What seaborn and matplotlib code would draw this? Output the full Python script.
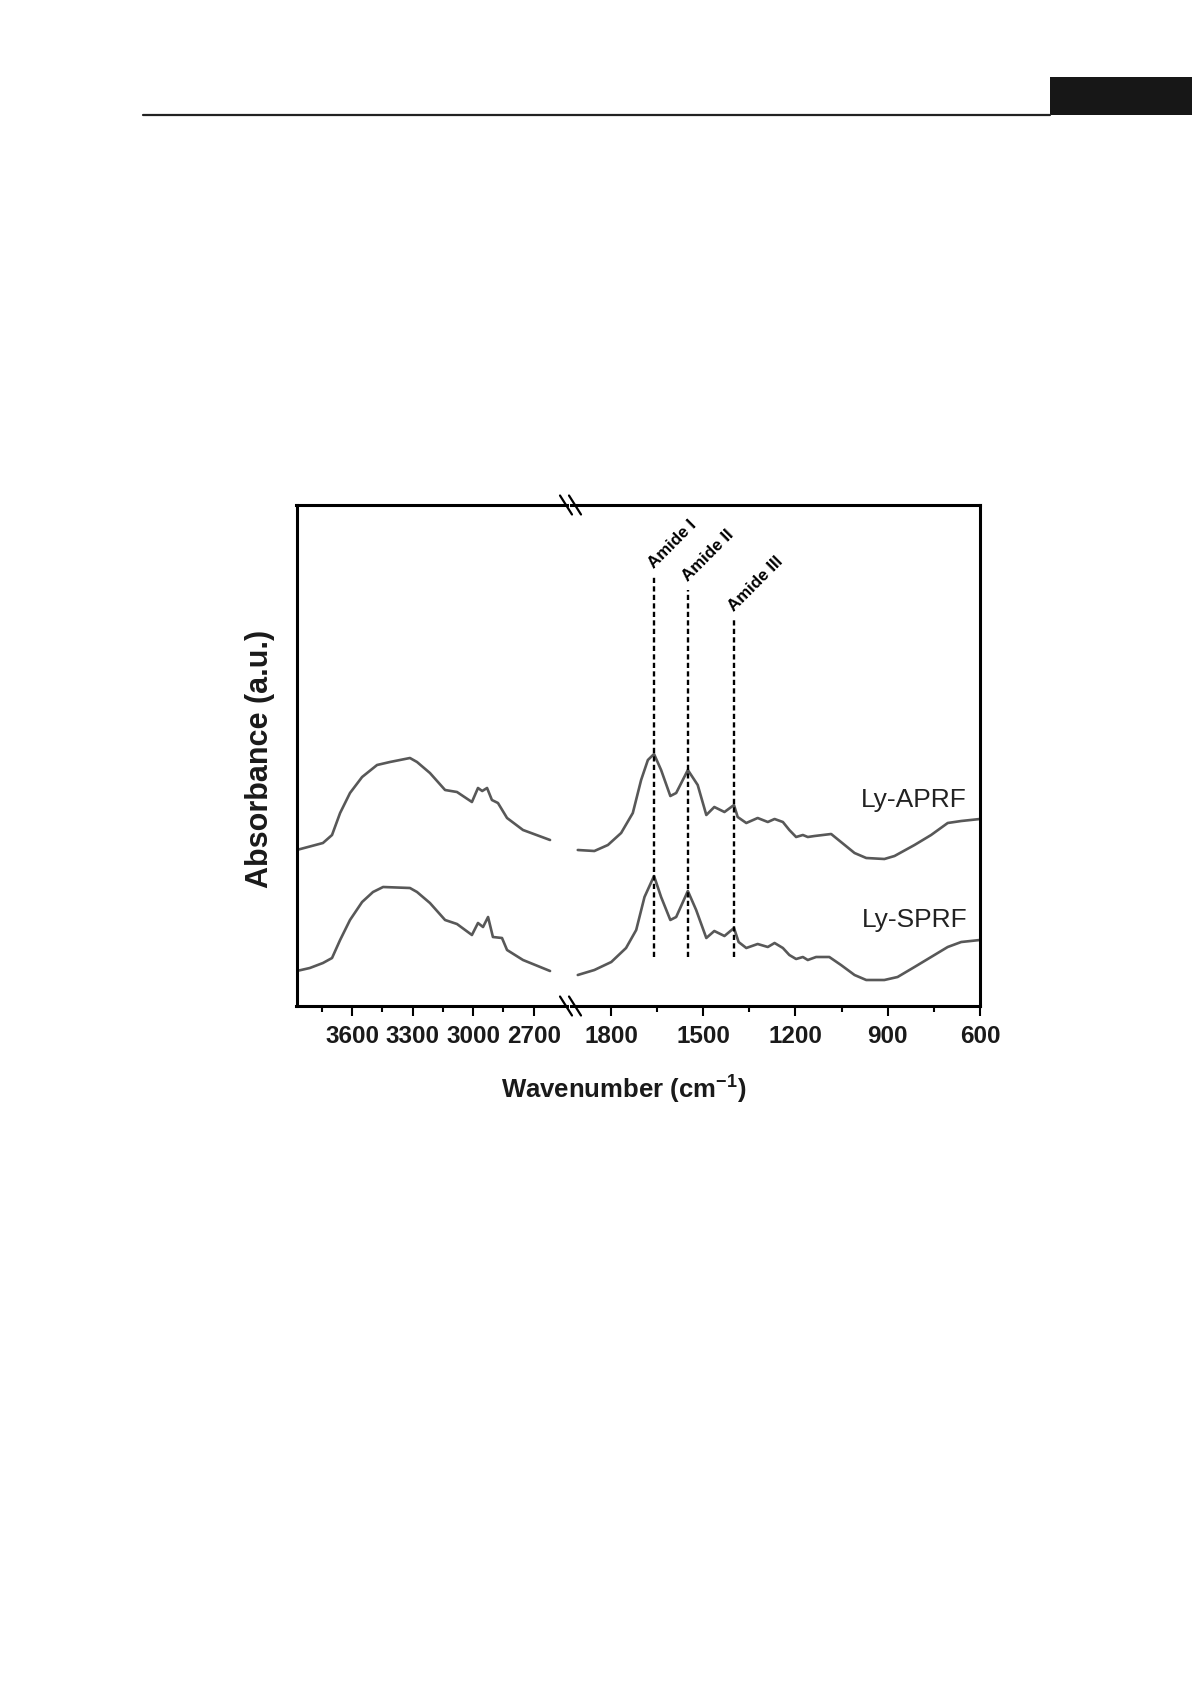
import matplotlib
matplotlib.use("Agg")
import matplotlib.pyplot as plt
import seaborn as sns
import pandas as pd
from matplotlib.lines import Line2D
from matplotlib.patches import Rectangle

# ---------------- data ----------------
samples = ["Ly-APRF", "Ly-SPRF"]

wn_hi_aprf = [3874, 3744, 3699, 3659, 3610, 3550, 3476, 3412, 3313, 3278, 3214, 3139, 3080,
              3006, 2976, 2955, 2931, 2907, 2877, 2832, 2753, 2619]
ab_hi_aprf = [15.6, 16.3, 17.1, 19.3, 21.3, 22.9, 24.1, 24.4, 24.8, 24.4, 23.3, 21.6, 21.4,
              20.4, 21.8, 21.5, 21.8, 20.6, 20.3, 18.8, 17.6, 16.6]

wn_hi_sprf = [3874, 3809, 3744, 3699, 3659, 3610, 3550, 3496, 3446, 3313, 3278, 3214, 3139,
              3080, 3006, 2976, 2951, 2926, 2902, 2857, 2832, 2753, 2619]
ab_hi_sprf = [3.5, 3.8, 4.3, 4.8, 6.6, 8.6, 10.4, 11.4, 11.9, 11.8, 11.4, 10.3, 8.6,
              8.2, 7.1, 8.3, 7.9, 8.9, 6.9, 6.8, 5.6, 4.6, 3.5]

wn_lo_aprf = [1908, 1854, 1810, 1767, 1729, 1702, 1680, 1660, 1637, 1607, 1588, 1550, 1518,
              1490, 1464, 1431, 1400, 1388, 1360, 1323, 1290, 1268, 1241, 1220, 1198, 1176,
              1160, 1138, 1084, 1052, 1008, 970, 911, 878, 813, 759, 705, 661, 600]
ab_lo_aprf = [15.6, 15.5, 16.1, 17.3, 19.3, 22.6, 24.6, 25.2, 23.6, 21.0, 21.3, 23.6, 22.1,
              19.1, 19.9, 19.4, 20.1, 18.9, 18.3, 18.8, 18.4, 18.7, 18.4, 17.6, 16.9, 17.1,
              16.9, 17.0, 17.2, 16.4, 15.3, 14.8, 14.7, 15.0, 16.1, 17.1, 18.3, 18.5, 18.7]

wn_lo_sprf = [1908, 1854, 1799, 1751, 1718, 1691, 1660, 1637, 1607, 1588, 1550, 1523, 1490,
              1464, 1431, 1400, 1385, 1360, 1323, 1290, 1268, 1241, 1220, 1198, 1176, 1160,
              1133, 1090, 1052, 1008, 970, 911, 868, 813, 759, 705, 661, 600]
ab_lo_sprf = [3.1, 3.6, 4.4, 5.8, 7.6, 10.9, 13.0, 10.9, 8.6, 8.9, 11.5, 9.6, 6.8,
              7.5, 7.0, 7.8, 6.4, 5.8, 6.2, 5.9, 6.3, 5.8, 5.1, 4.7, 4.9, 4.6,
              4.9, 4.9, 4.1, 3.1, 2.6, 2.6, 2.9, 3.9, 4.9, 5.9, 6.4, 6.6]

amide_names = ["Amide I", "Amide II", "Amide III"]
amide_wn = [1660, 1550, 1400]
amide_top = [42.9, 41.6, 38.6]
amide_bottom = 4.9

label_wn = 642
label_ab = [19.9, 7.9]

ticks_hi = [3600, 3300, 3000, 2700]
minor_hi = [3750, 3450, 3150, 2850]
ticks_lo = [1800, 1500, 1200, 900, 600]
minor_lo = [1650, 1350, 1050, 750]
xlim_hi = (3875, 2535)
xlim_lo = (1930, 600)
ylim = (0, 50.1)

# ---------------- style ----------------
sns.set_theme(style="white")
plt.rcParams["font.family"] = ["Liberation Sans", "DejaVu Sans"]
plt.rcParams["mathtext.fontset"] = "custom"
plt.rcParams["mathtext.rm"] = "Liberation Sans:bold"
plt.rcParams["mathtext.default"] = "regular"

W, H = 1192, 1685
def fx(px):
    return px / W
def fy(py):
    return 1 - py / H

fig = plt.figure(figsize=(W / 100, H / 100), dpi=100)
fig.patch.set_facecolor("white")

# page header decoration
fig.add_artist(Line2D([fx(143), fx(1050)], [fy(115), fy(115)], color="#222222", lw=1.6))
fig.add_artist(Rectangle((fx(1050), fy(115)), fx(1192) - fx(1050), (115 - 77) / H,
                         transform=fig.transFigure, facecolor="#171717", edgecolor="none"))

top, bot = 505, 1006
axL = fig.add_axes([fx(296.5), fy(bot), (567 - 296.5) / W, (bot - top) / H])
axR = fig.add_axes([fx(571), fy(bot), (980 - 571) / W, (bot - top) / H])

line_color = "#585858"
df_hi = pd.concat([
    pd.DataFrame({"wn": wn_hi_aprf, "ab": ab_hi_aprf, "sample": samples[0]}),
    pd.DataFrame({"wn": wn_hi_sprf, "ab": ab_hi_sprf, "sample": samples[1]}),
])
df_lo = pd.concat([
    pd.DataFrame({"wn": wn_lo_aprf, "ab": ab_lo_aprf, "sample": samples[0]}),
    pd.DataFrame({"wn": wn_lo_sprf, "ab": ab_lo_sprf, "sample": samples[1]}),
])
pal = {samples[0]: line_color, samples[1]: line_color}
sns.lineplot(data=df_hi, x="wn", y="ab", hue="sample", palette=pal, estimator=None,
             sort=False, lw=1.9, ax=axL, legend=False)
sns.lineplot(data=df_lo, x="wn", y="ab", hue="sample", palette=pal, estimator=None,
             sort=False, lw=1.9, ax=axR, legend=False)

axL.set_xlim(*xlim_hi)
axR.set_xlim(*xlim_lo)
for ax in (axL, axR):
    ax.set_ylim(*ylim)
    ax.set_yticks([])
    ax.set_xlabel("")
    ax.set_ylabel("")
    ax.set_facecolor("white")
    for s in ax.spines.values():
        s.set_linewidth(2.2)
        s.set_color("black")
    ax.tick_params(axis="x", which="major", direction="out", length=7.5, width=1.5,
                   labelsize=17.5, pad=6.5, color="black", bottom=True)
    ax.tick_params(axis="x", which="minor", direction="out", length=4.3, width=1.5,
                   color="black", bottom=True)
axL.spines["right"].set_visible(False)
axR.spines["left"].set_visible(False)

axL.set_xticks(ticks_hi)
axL.set_xticks(minor_hi, minor=True)
axR.set_xticks(ticks_lo)
axR.set_xticks(minor_lo, minor=True)
for ax in (axL, axR):
    ax.set_xticklabels([str(t) for t in ax.get_xticks()], fontweight="bold",
                       fontsize=17.5, color="#1a1a1a")

# break marks
for cx in (566, 575):
    for cy in (top, bot):
        fig.add_artist(Line2D([fx(cx - 6), fx(cx + 6)], [fy(cy - 9.5), fy(cy + 9.5)],
                              color="black", lw=1.6))

# amide reference lines
axR.vlines(amide_wn, amide_bottom, amide_top, colors="black",
           linestyles=(0, (2.2, 1.4)), lw=1.7)
for name, w, t in zip(amide_names, amide_wn, amide_top):
    axR.annotate(name, xy=(w, t), xytext=(2, 6), textcoords="offset pixels",
                 rotation=45, rotation_mode="anchor", ha="left", va="bottom",
                 fontsize=12.2, fontweight="bold", color="black")

# sample labels
for name, y in zip(samples, label_ab):
    axR.text(label_wn, y, name, ha="right", va="baseline", fontsize=19, color="#222222")

# axis titles
fig.text(fx(260), fy(759), "Absorbance (a.u.)", rotation=90, ha="center", va="center",
         fontsize=22, fontweight="bold", color="#1a1a1a")
fig.text(fx(624), fy(1090), "Wavenumber (cm$^{-1}$)", ha="center", va="center",
         fontsize=18.5, fontweight="bold", color="#1a1a1a")

fig.savefig("out.png", dpi=100, facecolor="white")
